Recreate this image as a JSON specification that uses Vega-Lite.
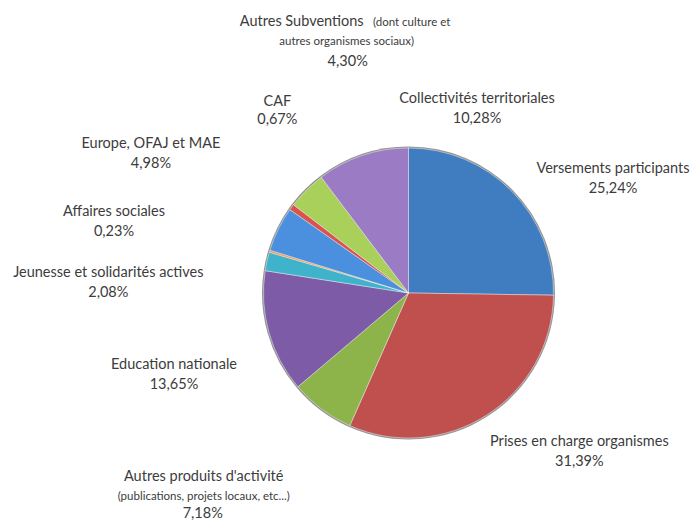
{
  "$schema": "https://vega.github.io/schema/vega-lite/v6.json",
  "autosize": "none",
  "width": 577,
  "height": 458,
  "padding": {"left": 120, "top": 64, "right": 0, "bottom": 0},
  "background": "white",
  "config": {"view": {"stroke": null}},
  "data": {"values": [
    {"i": 1, "key": "Versements participants", "value": 25.24, "lines": ["Versements participants", "25,24%"]},
    {"i": 2, "key": "Prises en charge organismes", "value": 31.39, "lines": ["Prises en charge organismes", "31,39%"]},
    {"i": 3, "key": "Autres produits d'activité", "value": 7.18, "name": "Autres produits d'activité", "note": "(publications, projets locaux, etc...)", "pct": "7,18%"},
    {"i": 4, "key": "Education nationale", "value": 13.65, "lines": ["Education nationale", "13,65%"]},
    {"i": 5, "key": "Jeunesse et solidarités actives", "value": 2.08, "lines": ["Jeunesse et solidarités actives", "2,08%"]},
    {"i": 6, "key": "Affaires sociales", "value": 0.23, "lines": ["Affaires sociales", "0,23%"]},
    {"i": 7, "key": "Europe, OFAJ et MAE", "value": 4.98, "lines": ["Europe, OFAJ et MAE", "4,98%"]},
    {"i": 8, "key": "CAF", "value": 0.67, "lines": ["CAF", "0,67%"]},
    {"i": 9, "key": "Autres Subventions", "value": 4.30, "name": "Autres Subventions", "note": "(dont culture et", "note2": "autres organismes sociaux)", "pct": "4,30%"},
    {"i": 10, "key": "Collectivités territoriales", "value": 10.28, "lines": ["Collectivités territoriales", "10,28%"]}
  ]},
  "encoding": {
    "theta": {"field": "value", "type": "quantitative", "stack": true},
    "order": {"field": "i", "type": "quantitative"}
  },
  "layer": [
    {
      "mark": {"type": "arc", "outerRadius": 146.5, "fill": "#3a3a3a", "fillOpacity": 0.55},
      "encoding": {}
    },
    {
      "mark": {"type": "arc", "outerRadius": 145, "stroke": "#ffffff", "strokeWidth": 0.6, "strokeOpacity": 0.7},
      "encoding": {
        "color": {
          "field": "key", "type": "nominal", "legend": null,
          "scale": {
            "domain": ["Versements participants", "Prises en charge organismes", "Autres produits d'activité", "Education nationale", "Jeunesse et solidarités actives", "Affaires sociales", "Europe, OFAJ et MAE", "CAF", "Autres Subventions", "Collectivités territoriales"],
            "range": ["#3F7DC0", "#C0504D", "#8DB44A", "#7D5BA6", "#3FB3CB", "#F79646", "#4A90DF", "#D9534F", "#A8D05A", "#9A7BC4"]
          }
        }
      }
    },
    {
      "mark": {"type": "text", "radius": 200, "dx": 62, "dy": 16, "font": "Lato", "fontSize": 14.5, "fill": "#3c3c3c", "lineHeight": 20, "align": "center", "baseline": "middle"},
      "encoding": {"text": {"condition": {"test": "datum.i == 1", "field": "lines", "type": "nominal"}, "value": ""}}
    },
    {
      "mark": {"type": "text", "radius": 200, "dx": 63, "dy": -19, "font": "Lato", "fontSize": 14.5, "fill": "#3c3c3c", "lineHeight": 20, "align": "center", "baseline": "middle"},
      "encoding": {"text": {"condition": {"test": "datum.i == 2", "field": "lines", "type": "nominal"}, "value": ""}}
    },
    {
      "mark": {"type": "text", "radius": 200, "dx": -85, "dy": 24, "font": "Lato", "fontSize": 14.5, "fill": "#3c3c3c", "align": "center", "baseline": "middle"},
      "encoding": {"text": {"condition": {"test": "datum.i == 3", "field": "name", "type": "nominal"}, "value": ""}}
    },
    {
      "mark": {"type": "text", "radius": 200, "dx": -85, "dy": 44, "font": "Lato", "fontSize": 11.5, "fill": "#3c3c3c", "align": "center", "baseline": "middle"},
      "encoding": {"text": {"condition": {"test": "datum.i == 3", "field": "note", "type": "nominal"}, "value": ""}}
    },
    {
      "mark": {"type": "text", "radius": 200, "dx": -86, "dy": 61, "font": "Lato", "fontSize": 14.5, "fill": "#3c3c3c", "align": "center", "baseline": "middle"},
      "encoding": {"text": {"condition": {"test": "datum.i == 3", "field": "pct", "type": "nominal"}, "value": ""}}
    },
    {
      "mark": {"type": "text", "radius": 200, "dx": -42, "dy": 18, "font": "Lato", "fontSize": 14.5, "fill": "#3c3c3c", "lineHeight": 20, "align": "center", "baseline": "middle"},
      "encoding": {"text": {"condition": {"test": "datum.i == 4", "field": "lines", "type": "nominal"}, "value": ""}}
    },
    {
      "mark": {"type": "text", "radius": 200, "dx": -105, "dy": 24, "font": "Lato", "fontSize": 14.5, "fill": "#3c3c3c", "lineHeight": 20, "align": "center", "baseline": "middle"},
      "encoding": {"text": {"condition": {"test": "datum.i == 5", "field": "lines", "type": "nominal"}, "value": ""}}
    },
    {
      "mark": {"type": "text", "radius": 200, "dx": -103, "dy": -23, "font": "Lato", "fontSize": 14.5, "fill": "#3c3c3c", "lineHeight": 20, "align": "center", "baseline": "middle"},
      "encoding": {"text": {"condition": {"test": "datum.i == 6", "field": "lines", "type": "nominal"}, "value": ""}}
    },
    {
      "mark": {"type": "text", "radius": 200, "dx": -78, "dy": -61, "font": "Lato", "fontSize": 14.5, "fill": "#3c3c3c", "lineHeight": 20, "align": "center", "baseline": "middle"},
      "encoding": {"text": {"condition": {"test": "datum.i == 7", "field": "lines", "type": "nominal"}, "value": ""}}
    },
    {
      "mark": {"type": "text", "radius": 200, "dx": 30, "dy": -73, "font": "Lato", "fontSize": 14.5, "fill": "#3c3c3c", "lineHeight": 18, "align": "center", "baseline": "middle"},
      "encoding": {"text": {"condition": {"test": "datum.i == 8", "field": "lines", "type": "nominal"}, "value": ""}}
    },
    {
      "mark": {"type": "text", "radius": 200, "dx": 34, "dy": -129, "font": "Lato", "fontSize": 14.5, "fill": "#3c3c3c", "align": "center", "baseline": "middle"},
      "encoding": {"text": {"condition": {"test": "datum.i == 9", "field": "name", "type": "nominal"}, "value": ""}}
    },
    {
      "mark": {"type": "text", "radius": 200, "dx": 144, "dy": -128, "font": "Lato", "fontSize": 11.5, "fill": "#3c3c3c", "align": "center", "baseline": "middle"},
      "encoding": {"text": {"condition": {"test": "datum.i == 9", "field": "note", "type": "nominal"}, "value": ""}}
    },
    {
      "mark": {"type": "text", "radius": 200, "dx": 79, "dy": -109, "font": "Lato", "fontSize": 11.5, "fill": "#3c3c3c", "align": "center", "baseline": "middle"},
      "encoding": {"text": {"condition": {"test": "datum.i == 9", "field": "note2", "type": "nominal"}, "value": ""}}
    },
    {
      "mark": {"type": "text", "radius": 200, "dx": 80, "dy": -89, "font": "Lato", "fontSize": 14.5, "fill": "#3c3c3c", "align": "center", "baseline": "middle"},
      "encoding": {"text": {"condition": {"test": "datum.i == 9", "field": "pct", "type": "nominal"}, "value": ""}}
    },
    {
      "mark": {"type": "text", "radius": 200, "dx": 132, "dy": -4, "font": "Lato", "fontSize": 14.5, "fill": "#3c3c3c", "lineHeight": 20, "align": "center", "baseline": "middle"},
      "encoding": {"text": {"condition": {"test": "datum.i == 10", "field": "lines", "type": "nominal"}, "value": ""}}
    }
  ]
}
